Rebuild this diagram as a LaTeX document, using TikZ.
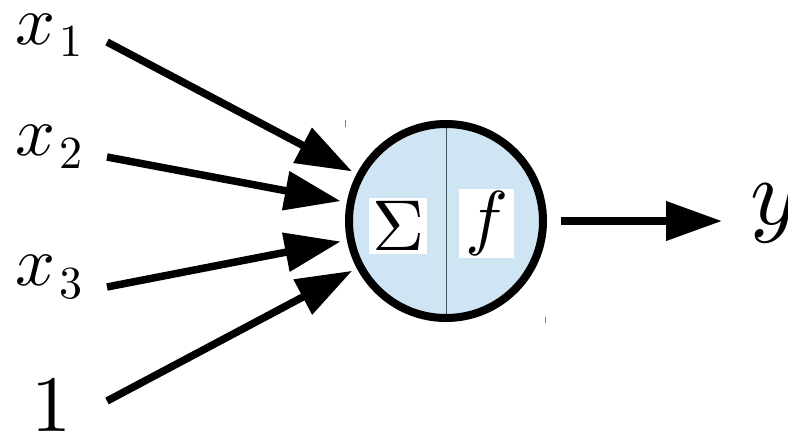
\documentclass[tikz,border=0pt]{standalone}
\usepackage{graphicx}
\usetikzlibrary{arrows.meta}
\definecolor{cellblue}{HTML}{CFE5F3}
\definecolor{divgray}{HTML}{46525E}
\newcommand{\hugemath}[1]{\scalebox{7.2}{$#1$}}
\newcommand{\xsub}[1]{\scalebox{7}{$x$}\kern4pt\raisebox{-13pt}{\scalebox{4.6}{$#1$}}}
\begin{document}
\begin{tikzpicture}[x=1pt,y=-1pt,
  lab/.style={inner sep=0pt, anchor=base west},
  arr/.style={line width=7.5pt, -{Triangle[length=56pt,width=38pt]}},
  symbox/.style={fill=white},
  tick/.style={gray, line width=0.8pt}]
\useasboundingbox (0,0) rectangle (788,434);
% neuron
\node[circle, fill=cellblue, minimum size=202pt, inner sep=0pt] (n) at (446,221) {};
\draw[divgray, line width=1pt] (n.north) -- (n.south);
\draw[line width=8pt] (n.center) circle[radius=97pt];
\node[symbox, inner sep=3pt] (sig) at (398,226) {\hugemath{\Sigma}};
\node[symbox, inner xsep=6pt, inner ysep=2.5pt] (fn) at (486.5,223.5) {\hugemath{f}};
% small marks
\draw[tick] (345,120) -- (345,127);
\draw[tick] (545,317) -- (545,323);
% labels
\node[lab] (x1) at (15,44) {\xsub{1}};
\node[lab] (x2) at (15,155) {\xsub{2}};
\node[lab] (x3) at (15,285) {\xsub{3}};
\node[lab] (b) at (31,431) {\scalebox{8}{$1$}};
\node[lab] (y) at (750,224) {\scalebox{9.4}{$y$}};
% arrows
\coordinate (s1) at (107,42);
\coordinate (s2) at (107,157);
\coordinate (s3) at (107,287);
\coordinate (s4) at (107,401);
\draw[arr, shorten >=5pt] (s1) -- (n);
\draw[arr, shorten >=6pt] (s2) -- (n);
\draw[arr, shorten >=6pt] (s3) -- (n);
\draw[arr, shorten >=5pt] (s4) -- (n);
\draw[arr, shorten <=14pt, shorten >=28pt] (n.east) -- (n.east -| y.west);
\end{tikzpicture}
\end{document}
